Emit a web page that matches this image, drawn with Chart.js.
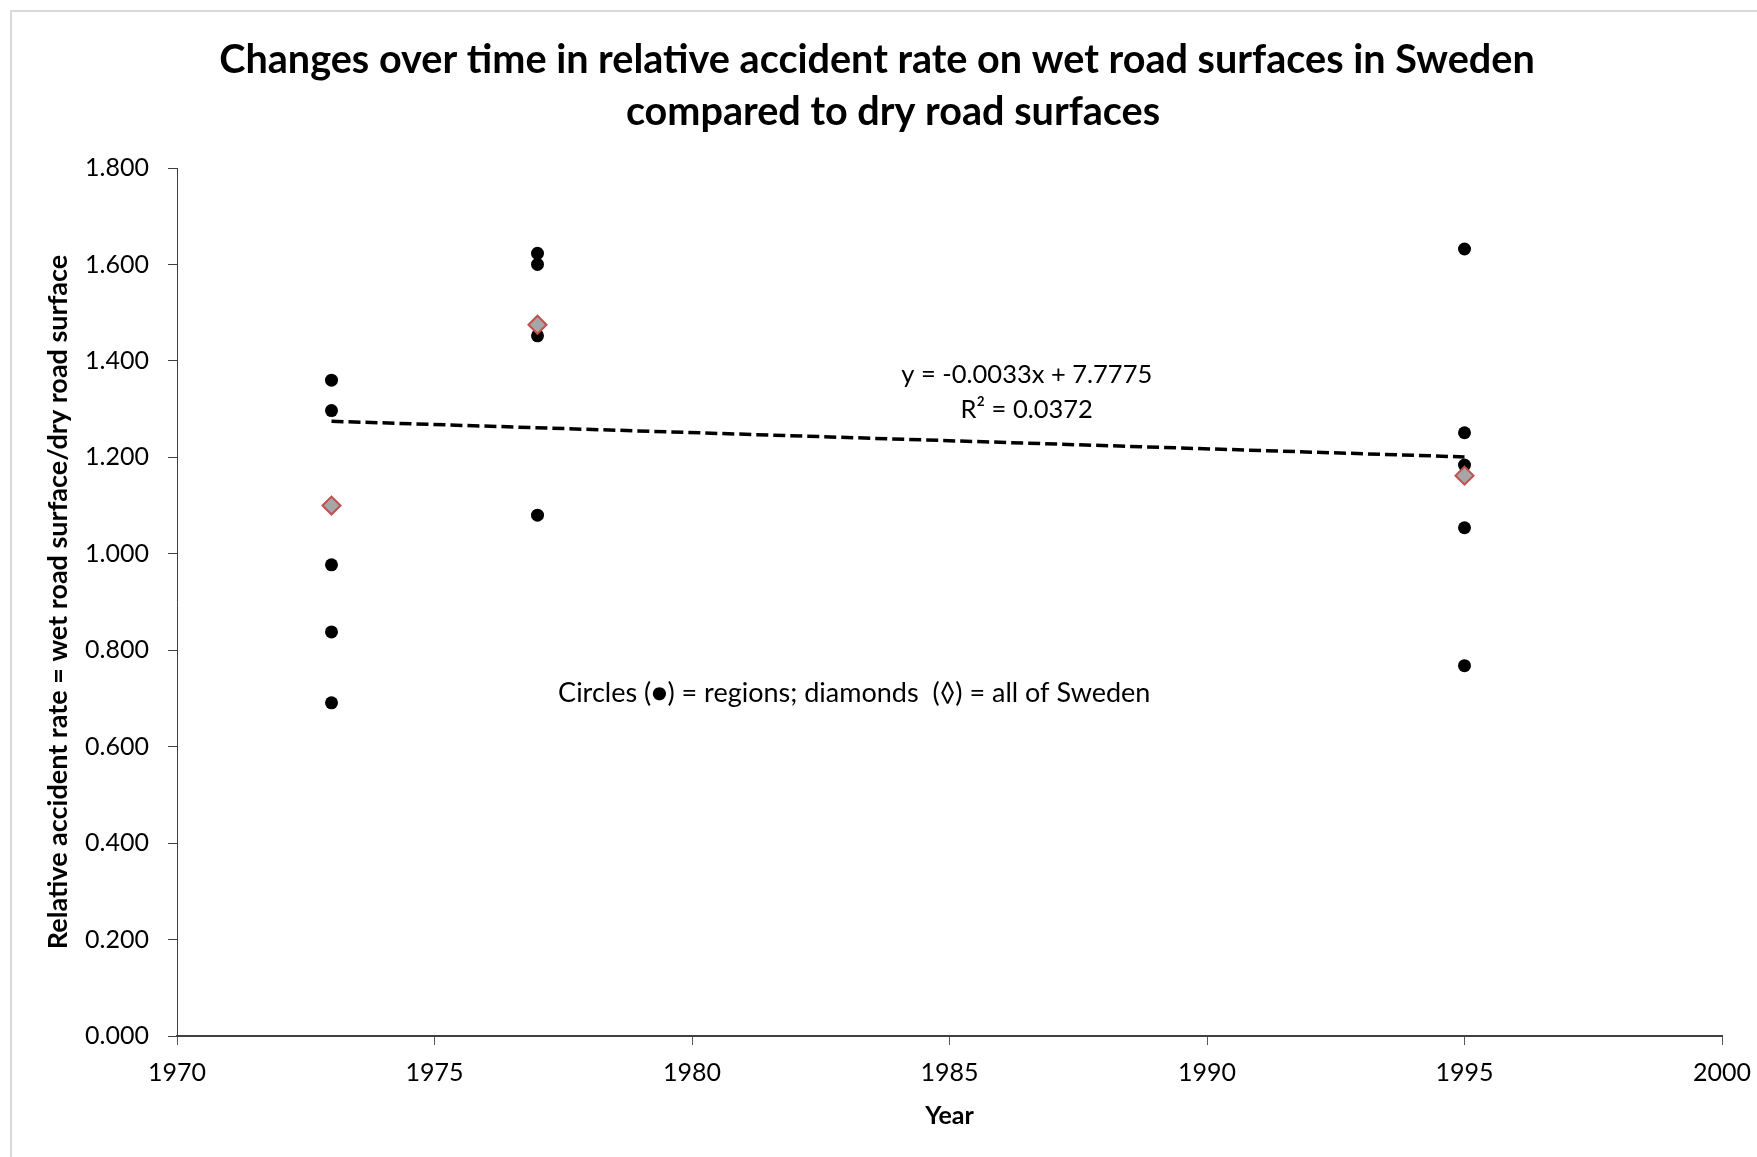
<!DOCTYPE html>
<html>
<head>
<meta charset="utf-8">
<script src="https://cdn.jsdelivr.net/npm/chart.js@4.4.1/dist/chart.umd.min.js"></script>
<style>
body{margin:0;background:#fff}
#wrap{width:1757px;height:1157px}
</style>
</head>
<body>
<div id="wrap"><canvas id="chart" width="1757" height="1157"></canvas></div>
<script>
// values
let regionYears=[1973,1973,1973,1973,1973,1977,1977,1977,1977,1995,1995,1995,1995,1995]
let regionRates=[1.360,1.297,0.977,0.838,0.691,1.623,1.600,1.452,1.080,1.632,1.251,1.184,1.054,0.768]

let swedenYears=[1973,1977,1995]
let swedenRates=[1.100,1.475,1.162]

let titleLines=["Changes over time in relative accident rate on wet road surfaces in Sweden","compared to dry road surfaces"]
let eqText="y = -0.0033x + 7.7775"
let r2Text="R² = 0.0372"
let noteText="Circles (●) = regions; diamonds  (◊) = all of Sweden"

let font="Lato, 'Open Sans', sans-serif"

// linear trendline fitted to the all-of-Sweden points, like Excel does
function trend(xs,ys){
let n=xs.length
let mx=xs.reduce((a,b)=>a+b,0)/n
let my=ys.reduce((a,b)=>a+b,0)/n
let sxy=0,sxx=0
for(let i=0;i<n;i++){sxy+=(xs[i]-mx)*(ys[i]-my);sxx+=(xs[i]-mx)**2}
let k=sxy/sxx
let x0=Math.min(...xs),x1=Math.max(...xs)
return [{x:x0,y:my+k*(x0-mx)},{x:x1,y:my+k*(x1-mx)}]
}

let textPlugin={
id:"texts",
beforeDraw(chart){
let ctx=chart.ctx
ctx.save()
ctx.strokeStyle="#d9d9d9"
ctx.lineWidth=2
ctx.strokeRect(11,11,1800,1200)
ctx.restore()
},
afterDraw(chart){
let ctx=chart.ctx
let xs=chart.scales.x,ys=chart.scales.y
ctx.save()
ctx.fillStyle="#000"
ctx.textAlign="center"
ctx.textBaseline="middle"
ctx.font="bold 39.6px "+font
ctx.fillText(titleLines[0],877,60)
ctx.fillText(titleLines[1],893,112)
ctx.font="25.5px "+font
ctx.fillText(eqText,xs.getPixelForValue(1986.5),ys.getPixelForValue(1.371))
ctx.fillText(r2Text,xs.getPixelForValue(1986.5),ys.getPixelForValue(1.298))
ctx.font="27px "+font
ctx.fillText(noteText,xs.getPixelForValue(1983.15),ys.getPixelForValue(0.711))
ctx.restore()
}
}

new Chart(document.getElementById("chart"),{
type:"scatter",
data:{
datasets:[
{
label:"Trend",
type:"line",
data:trend(swedenYears,swedenRates),
borderColor:"#000",
borderWidth:3.5,
borderDash:[12,5],
pointRadius:0,
fill:false,
order:0
},
{
label:"Sweden",
data:swedenYears.map((x,i)=>({x:x,y:swedenRates[i]})),
pointStyle:"rectRot",
pointRadius:9,
pointBackgroundColor:"#a6a6a6",
pointBorderColor:"#c0504d",
pointBorderWidth:2,
order:1
},
{
label:"Regions",
data:regionYears.map((x,i)=>({x:x,y:regionRates[i]})),
pointStyle:"circle",
pointRadius:6.5,
pointBackgroundColor:"#000",
pointBorderColor:"#000",
pointBorderWidth:0,
order:2
}
]
},
options:{
responsive:false,
animation:false,
devicePixelRatio:1,
layout:{padding:{left:10,right:35,top:168,bottom:10}},
plugins:{legend:{display:false},tooltip:{enabled:false},title:{display:false}},
scales:{
x:{
type:"linear",
min:1970,max:2000,
ticks:{stepSize:5,color:"#000",font:{family:font,size:25},padding:13,callback:v=>v},
grid:{drawOnChartArea:false,drawTicks:true,tickLength:9,color:"#595959"},
border:{display:true,color:"#404040",width:2},
title:{display:true,text:"Year",color:"#000",font:{family:font,size:25,weight:"bold"},padding:{top:0,bottom:16}},
afterFit(s){s.height=111;s.paddingLeft=0;s.paddingRight=0}
},
y:{
min:0,max:1.8,
ticks:{stepSize:0.2,color:"#000",font:{family:font,size:25},padding:19,callback:v=>v.toFixed(3)},
grid:{drawOnChartArea:false,drawTicks:true,tickLength:9,color:"#404040"},
border:{display:true,color:"#404040",width:1},
title:{display:true,text:"Relative accident rate = wet road surface/dry road surface",color:"#000",font:{family:font,size:27,weight:"bold"},padding:{top:32,bottom:0}},
afterFit(s){s.width=167;s.paddingTop=0;s.paddingBottom=0}
}
}
},
plugins:[textPlugin]
})
</script>
</body>
</html>
